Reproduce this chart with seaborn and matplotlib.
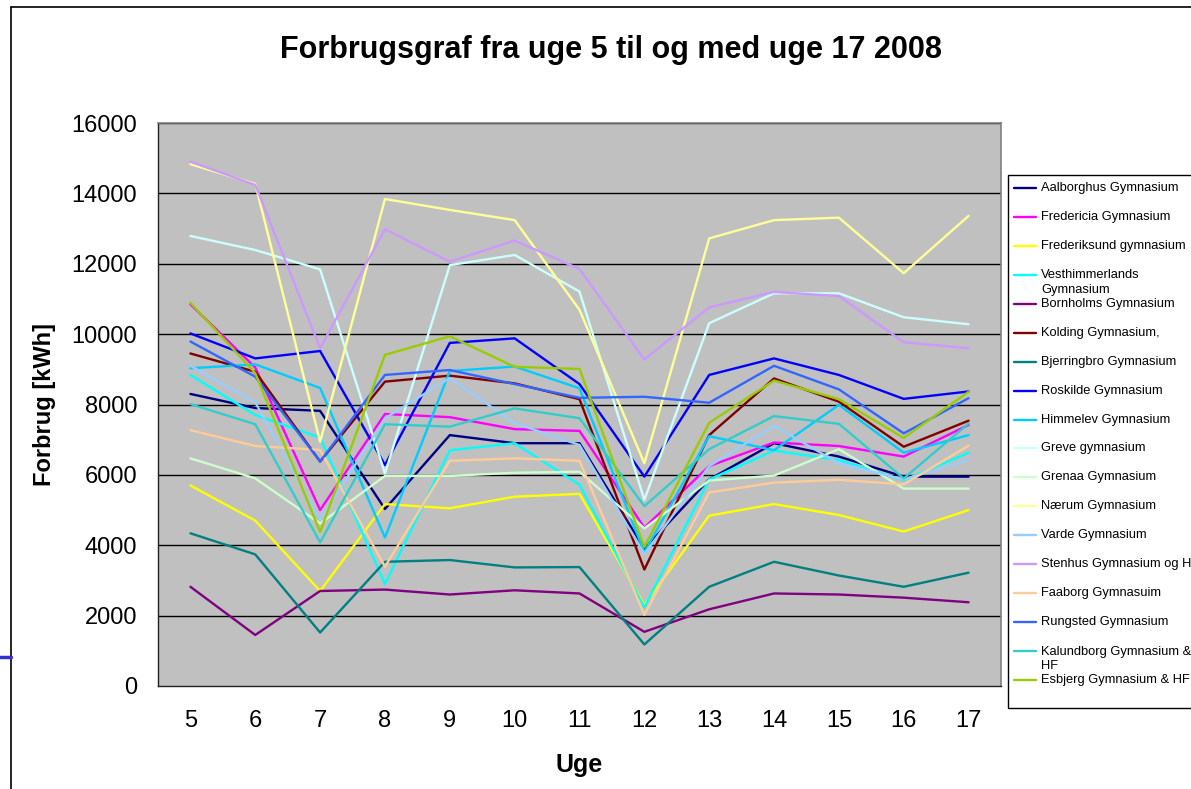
import matplotlib
matplotlib.use("Agg")
import matplotlib.pyplot as plt
from matplotlib.lines import Line2D
from matplotlib.patches import Rectangle
from matplotlib.ticker import FixedLocator, NullFormatter, FixedFormatter
import seaborn as sns
import pandas as pd

weeks = [5, 6, 7, 8, 9, 10, 11, 12, 13, 14, 15, 16, 17]

schools = [
    "Aalborghus Gymnasium", "Fredericia Gymnasium", "Frederiksund gymnasium",
    "Vesthimmerlands Gymnasium", "Bornholms Gymnasium", "Kolding Gymnasium,",
    "Bjerringbro Gymnasium", "Roskilde Gymnasium", "Himmelev Gymnasium",
    "Greve gymnasium", "Grenaa Gymnasium", "Nærum Gymnasium", "Varde Gymnasium",
    "Stenhus Gymnasium og HF", "Faaborg Gymnasuim", "Rungsted Gymnasium",
    "Kalundborg Gymnasium & HF", "Esbjerg Gymnasium & HF",
]
legend_labels = [
    "Aalborghus Gymnasium", "Fredericia Gymnasium", "Frederiksund gymnasium",
    "Vesthimmerlands\nGymnasium", "Bornholms Gymnasium", "Kolding Gymnasium,",
    "Bjerringbro Gymnasium", "Roskilde Gymnasium", "Himmelev Gymnasium",
    "Greve gymnasium", "Grenaa Gymnasium", "Nærum Gymnasium", "Varde Gymnasium",
    "Stenhus Gymnasium og HF", "Faaborg Gymnasuim", "Rungsted Gymnasium",
    "Kalundborg Gymnasium &\nHF", "Esbjerg Gymnasium & HF",
]

aalborghus = [8300, 7900, 7820, 5030, 7130, 6900, 6900, 3900, 5870, 6900, 6520, 5950, 5950]
fredericia = [10850, 9050, 5000, 7730, 7640, 7300, 7250, 4500, 6250, 6920, 6820, 6520, 7420]
frederiksund = [5700, 4700, 2700, 5170, 5050, 5380, 5460, 2300, 4840, 5170, 4860, 4390, 5000]
vesthimmerlands = [8840, 7700, 7060, 2900, 6700, 6900, 5720, 2230, 5870, 6690, 6420, 5850, 6630]
bornholms = [2820, 1450, 2700, 2740, 2600, 2720, 2630, 1540, 2180, 2630, 2600, 2510, 2380]
kolding = [9450, 8930, 6380, 8650, 8820, 8600, 8150, 3310, 7130, 8740, 8080, 6800, 7540]
bjerringbro = [4340, 3740, 1520, 3530, 3580, 3370, 3380, 1180, 2820, 3530, 3140, 2820, 3220]
roskilde = [10020, 9310, 9520, 6280, 9750, 9880, 8580, 5950, 8840, 9310, 8840, 8160, 8370]
himmelev = [9030, 9140, 8470, 4220, 8950, 9080, 8460, 3800, 7100, 6700, 7990, 6630, 7130]
greve = [12790, 12390, 11840, 6040, 11960, 12250, 11210, 5290, 10310, 11160, 11160, 10480, 10280]
grenaa = [6470, 5900, 4620, 5970, 5970, 6060, 6090, 4480, 5840, 5980, 6730, 5610, 5610]
naerum = [14830, 14270, 6940, 13840, 13530, 13240, 10690, 6330, 12720, 13240, 13310, 11730, 13360]
varde = [9100, 8060, 4720, 7610, 8750, 7470, 6850, 3750, 6250, 7390, 6330, 5870, 6420]
stenhus = [14900, 14240, 9600, 12980, 12060, 12660, 11850, 9280, 10760, 11200, 11080, 9770, 9600]
faaborg = [7270, 6820, 6710, 3390, 6400, 6470, 6400, 2020, 5500, 5780, 5860, 5730, 6830]
rungsted = [9790, 8790, 6380, 8840, 8980, 8580, 8190, 8220, 8050, 9100, 8430, 7180, 8180]
kalundborg = [8010, 7440, 4080, 7440, 7370, 7890, 7610, 5110, 6730, 7670, 7450, 5900, 7460]
esbjerg = [10890, 8890, 4380, 9410, 9940, 9070, 9010, 3950, 7480, 8680, 8150, 7050, 8360]

series = [aalborghus, fredericia, frederiksund, vesthimmerlands, bornholms, kolding,
          bjerringbro, roskilde, himmelev, greve, grenaa, naerum, varde, stenhus,
          faaborg, rungsted, kalundborg, esbjerg]

colors = ["#000080", "#FF00FF", "#FFFF00", "#00FFFF", "#800080", "#800000",
          "#008080", "#0000FF", "#00CCFF", "#CCFFFF", "#CCFFCC", "#FFFF99",
          "#99CCFF", "#CC99FF", "#FFCC99", "#3366FF", "#33CCCC", "#99CC00"]

yticks = [0, 2000, 4000, 6000, 8000, 10000, 12000, 14000, 16000]

rows = []
for name, vals in zip(schools, series):
    for w, v in zip(weeks, vals):
        rows.append({"Uge": w, "Forbrug": v, "Skole": name})
df = pd.DataFrame(rows)

sns.set_theme(style="white")
plt.rcParams["font.family"] = ["Liberation Sans", "DejaVu Sans"]
plt.rcParams["text.color"] = "black"
plt.rcParams["axes.labelcolor"] = "black"
plt.rcParams["xtick.color"] = "black"
plt.rcParams["ytick.color"] = "black"

W, H = 1191, 789
fig = plt.figure(figsize=(W / 100, H / 100), dpi=100)
fig.patch.set_facecolor("white")

L, R, T, B = 158, 1001, 123, 686
ax = fig.add_axes([L / W, 1 - B / H, (R - L) / W, (B - T) / H])
ax.set_facecolor("#C0C0C0")

sns.lineplot(data=df, x="Uge", y="Forbrug", hue="Skole", hue_order=schools,
             palette=dict(zip(schools, colors)), legend=False, sort=False,
             estimator=None, linewidth=1.7, ax=ax)

ax.set_xlim(4.5, 17.5)
ax.set_ylim(0, 16000)
ax.set_yticks(yticks)
ax.set_yticklabels([str(t) for t in yticks])
for t in yticks[1:]:
    ax.axhline(t, color="black", lw=1.0, zorder=0.5)

ax.xaxis.set_major_locator(FixedLocator([w - 0.5 for w in weeks] + [17.5]))
ax.xaxis.set_major_formatter(NullFormatter())
ax.xaxis.set_minor_locator(FixedLocator(weeks))
ax.xaxis.set_minor_formatter(FixedFormatter([str(w) for w in weeks]))
ax.tick_params(axis="x", which="major", direction="out", length=6, width=1, color="black")
ax.tick_params(axis="x", which="minor", length=0, pad=17, labelsize=17, labelcolor="black")
ax.tick_params(axis="y", which="major", direction="out", length=6, width=1, color="#404040",
               pad=9, labelsize=17, labelcolor="black")

for s in ["top", "right"]:
    ax.spines[s].set_color("#808080")
    ax.spines[s].set_linewidth(1.2)
for s in ["left", "bottom"]:
    ax.spines[s].set_color("#202020")
    ax.spines[s].set_linewidth(1.0)

ax.set_xlabel("Uge", fontsize=18, fontweight="bold", color="black")
ax.set_ylabel("Forbrug [kWh]", fontsize=17, fontweight="bold", color="black")
ax.xaxis.set_label_coords(0.5, (B - 765) / (B - T))
ax.xaxis.label.set_va("center")
ax.yaxis.set_label_coords((45 - L) / (R - L), 0.5)
ax.yaxis.label.set_va("center")

fig.text((280 + 943) / 2 / W, 1 - 50 / H, "Forbrugsgraf fra uge 5 til og med uge 17 2008",
         ha="center", va="center", fontsize=22, fontweight="bold", color="black")

# outer frame and slide decoration
fig.add_artist(Line2D([11 / W, 11 / W], [0, 1 - 7 / H], color="black", lw=1.2,
                      transform=fig.transFigure))
fig.add_artist(Line2D([11 / W, 1], [1 - 7 / H, 1 - 7 / H], color="black", lw=1.2,
                      transform=fig.transFigure))
fig.add_artist(Line2D([0, 11 / W], [1 - 657 / H, 1 - 657 / H], color="#3333CC", lw=2.5,
                      transform=fig.transFigure))

# legend box
lx0, ly0, ly1 = 1008, 175, 708
fig.add_artist(Rectangle((lx0 / W, 1 - ly1 / H), (W + 10 - lx0) / W, (ly1 - ly0) / H,
                         transform=fig.transFigure, facecolor="white",
                         edgecolor="black", lw=1.0))
for i, (lab, col) in enumerate(zip(legend_labels, colors)):
    yy = 188 + i * 28.94
    fig.add_artist(Line2D([1014 / W, 1036 / W], [1 - yy / H, 1 - yy / H], color=col,
                          lw=1.7, transform=fig.transFigure))
    if "\n" in lab:
        fig.text(1041 / W, 1 - (yy - 5.5) / H, lab, ha="left", va="top", fontsize=9.3,
                 linespacing=1.25, color="black")
    else:
        fig.text(1041 / W, 1 - yy / H, lab, ha="left", va="center", fontsize=9.3,
                 color="black")

fig.savefig("out.png", dpi=100)
